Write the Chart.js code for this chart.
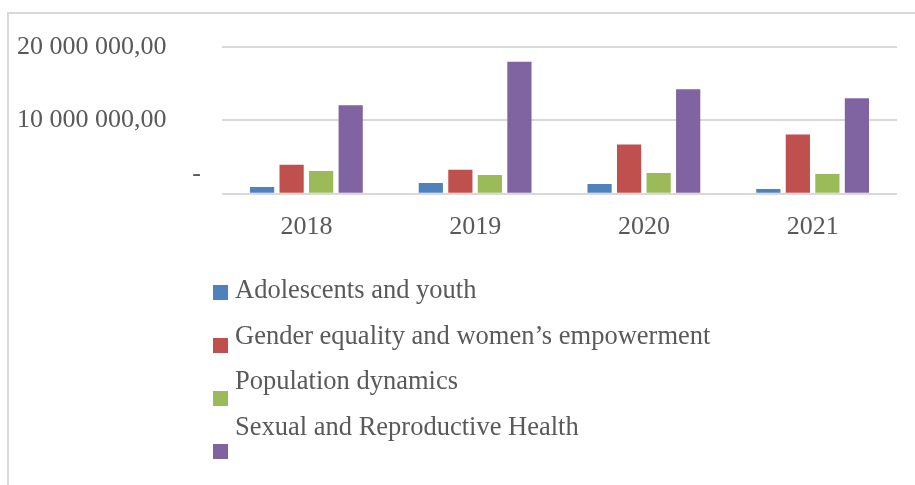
<!DOCTYPE html>
<html>
<head>
<meta charset="utf-8">
<script src="https://cdn.jsdelivr.net/npm/chart.js@4/dist/chart.umd.min.js"></script>
<style>
  html, body { margin: 0; padding: 0; background: #fff; }
  #wrap { width: 915px; height: 485px; position: relative; }
</style>
</head>
<body>
<div id="wrap"><canvas id="chart"></canvas></div>
<script>
const years = ['2018', '2019', '2020', '2021']
const seriesNames = [
  'Adolescents and youth',
  'Gender equality and women\u2019s empowerment',
  'Population dynamics',
  'Sexual and Reproductive Health'
]
const adolescents = [920000, 1470000, 1330000, 650000]
const gender = [3950000, 3260000, 6700000, 8070000]
const population = [3120000, 2570000, 2850000, 2710000]
const srh = [12060000, 17980000, 14260000, 13030000]
const colors = ['#4f81bd', '#c0504d', '#9bbb59', '#8064a2']

const FONT = "'Liberation Serif', 'Times New Roman', serif"
const TEXT = '#595959'
const GRID = '#d9d9d9'

const fmt = v => {
  if (v === 0) return '-'
  const s = Math.round(v).toString().replace(/\B(?=(\d{3})+(?!\d))/g, ' ')
  return s + ',00'
}

// frame, y labels and the stacked legend drawn by hand
const decor = {
  id: 'decor',
  afterDraw(chart) {
    const ctx = chart.ctx
    const y = chart.scales.y
    ctx.save()
    ctx.strokeStyle = GRID
    ctx.lineWidth = 2
    ctx.beginPath()
    ctx.moveTo(8, 490)
    ctx.lineTo(8, 13)
    ctx.lineTo(920, 13)
    ctx.stroke()

    ctx.fillStyle = TEXT
    ctx.font = '26px ' + FONT
    y.ticks.forEach(t => {
      const py = y.getPixelForValue(t.value)
      const label = fmt(t.value)
      ctx.textBaseline = 'middle'
      if (t.value === 0) {
        ctx.textAlign = 'right'
        ctx.fillText(label, 201, py - 20)
      } else {
        ctx.textAlign = 'left'
        ctx.fillText(label, 17, py)
      }
    })

    ctx.font = '26.5px ' + FONT
    ctx.textAlign = 'left'
    ctx.textBaseline = 'alphabetic'
    chart.data.datasets.forEach((ds, i) => {
      ctx.fillStyle = ds.backgroundColor
      ctx.fillRect(213, 285 + 53 * i, 15, 15)
      ctx.fillStyle = TEXT
      ctx.fillText(ds.label, 235, 298 + 45.7 * i)
    })
    ctx.restore()
  }
}

const datasets = [adolescents, gender, population, srh].map((d, i) => ({
  label: seriesNames[i],
  data: d,
  backgroundColor: colors[i],
  borderWidth: 0,
  barPercentage: 0.82,
  categoryPercentage: 0.7
}))

new Chart(document.getElementById('chart').getContext('2d'), {
  type: 'bar',
  data: { labels: years, datasets },
  options: {
    responsive: true,
    maintainAspectRatio: false,
    animation: false,
    layout: { padding: { left: 222, right: 18, top: 47, bottom: 232 } },
    scales: {
      x: {
        grid: { display: false },
        border: { display: false },
        ticks: { color: TEXT, font: { family: FONT, size: 26 }, padding: 10 }
      },
      y: {
        min: 0,
        max: 20000000,
        ticks: { display: false, stepSize: 10000000 },
        grid: { color: GRID, lineWidth: 2, drawTicks: false },
        border: { display: false }
      }
    },
    plugins: {
      legend: { display: false },
      tooltip: { enabled: false }
    }
  },
  plugins: [decor]
})
</script>
</body>
</html>
